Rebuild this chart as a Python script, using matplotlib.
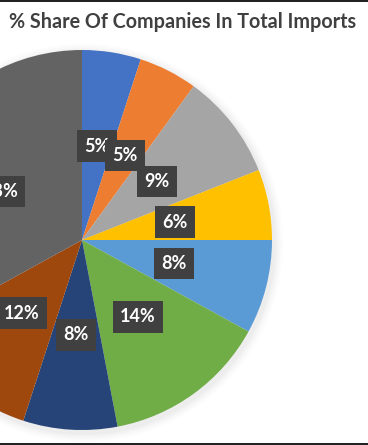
import matplotlib
matplotlib.use("Agg")
import matplotlib.pyplot as plt
from matplotlib.patches import Rectangle

# Share of each company in total imports (%), clockwise from 12 o'clock
companies = ["A", "B", "C", "D", "E", "F", "G", "H", "I"]
shares = [5, 5, 9, 6, 8, 14, 8, 12, 33]
colors = ["#4472C4", "#ED7D31", "#A5A5A5", "#FFC000", "#5B9BD5",
          "#70AD47", "#264478", "#9E480E", "#636363"]

W, H = 368, 445
fig = plt.figure(figsize=(W / 100, H / 100), dpi=100)

# pie centre at (82, 240) px from top-left, radius 190 px
cx, cy, r = 82, 240, 190
ax = fig.add_axes([(cx - r) / W, (H - cy - r) / H, 2 * r / W, 2 * r / H])
ax.set_xlim(-1, 1)
ax.set_ylim(-1, 1)
ax.axis("off")

# soft shadow behind the pie
for i, a in enumerate([0.025, 0.02, 0.015, 0.01]):
    ax.pie([1], radius=1.0 + 0.012 * (i + 1), center=(0.01, -0.015),
           colors=["#000000"], wedgeprops=dict(alpha=a, linewidth=0))

wedges, texts = ax.pie(
    shares,
    colors=colors,
    startangle=90,
    counterclock=False,
    radius=1.0,
    labels=[f"{s}%" for s in shares],
    labeldistance=0.5,
    wedgeprops=dict(linewidth=0),
)
ax.set_xlim(-1, 1)
ax.set_ylim(-1, 1)

for t in texts:
    t.set_color("white")
    t.set_fontsize(13)
    t.set_fontweight("bold")
    t.set_family("Lato")
    t.set_ha("center")
    t.set_va("center")
    t.set_bbox(dict(boxstyle="square,pad=0.4", facecolor="#404040",
                    edgecolor="none"))

fig.text(0.497, 1 - 22 / H, "% Share Of Companies In Total Imports",
         ha="center", va="center", fontsize=14.2, fontweight="bold",
         color="#404040", family="Lato")

# dark frame lines at top and bottom
fig.add_artist(Rectangle((0, 1 - 2 / H), 1, 2 / H, transform=fig.transFigure,
                         facecolor="#222222", edgecolor="none"))
fig.add_artist(Rectangle((0, 0), 1, 2 / H, transform=fig.transFigure,
                         facecolor="#222222", edgecolor="none"))

fig.savefig("out.png", dpi=100)
